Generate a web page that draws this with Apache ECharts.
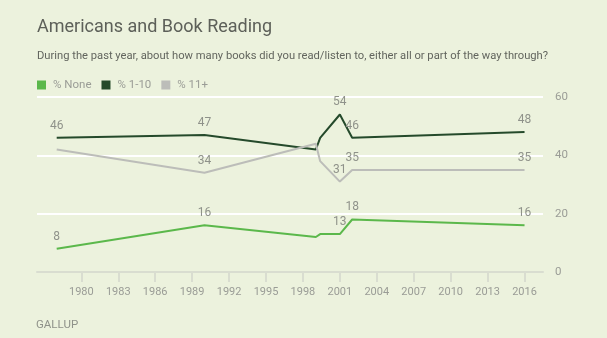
<!DOCTYPE html>
<html>
<head>
<meta charset="utf-8">
<script src="https://cdn.jsdelivr.net/npm/echarts@6/dist/echarts.min.js"></script>
<style>
html,body{margin:0;padding:0;background:#ecf2dd;}
#c{width:607px;height:338px;}
</style>
</head>
<body>
<div id="c"></div>
<script>
var years = [1978, 1990, 1999.05, 1999.4, 2001, 2002, 2016];
var noneVals = [8, 16, 12, 13, 13, 18, 16];
var oneTenVals = [46, 47, 42, 46, 54, 46, 48];
var elevenVals = [42, 34, 44, 38, 31, 35, 35];
var noneShow = [1, 1, 0, 0, 1, 1, 1];
var oneTenShow = [1, 1, 0, 0, 1, 1, 1];
var elevenShow = [0, 1, 0, 0, 1, 1, 1];
var xTicks = [1980, 1983, 1986, 1989, 1992, 1995, 1998, 2001, 2004, 2007, 2010, 2013, 2016];
var seriesNames = ['% None', '% 1-10', '% 11+'];

var FONT = 'Roboto';
function build(vals, show) {
  return years.map(function (y, i) {
    return { value: [y, vals[i]], label: { show: !!show[i] } };
  });
}
function mk(name, vals, show, color) {
  return {
    name: name, type: 'line', data: build(vals, show),
    symbol: 'circle', symbolSize: 0.01, showSymbol: true, showAllSymbol: true, smooth: false,
    lineStyle: { color: color, width: 2 },
    itemStyle: { color: color },
    label: { show: false, position: 'top', distance: 6, color: '#8f928a', fontSize: 12, fontFamily: FONT },
    emphasis: { disabled: true }, animation: false
  };
}
var chart = echarts.init(document.getElementById('c'), null, { renderer: 'canvas' });
chart.setOption({
  backgroundColor: '#ecf2dd',
  animation: false,
  title: [
    { text: 'Americans and Book Reading', left: 32, top: 13,
      textStyle: { fontFamily: FONT, fontSize: 18, fontWeight: 'normal', color: '#5d6059' } },
    { text: 'During the past year, about how many books did you read/listen to, either all or part of the way through?',
      left: 32, top: 46,
      textStyle: { fontFamily: FONT, fontSize: 11.2, fontWeight: 'normal', color: '#62655e' } }
  ],
  legend: {
    left: 32, top: 74, itemWidth: 9, itemHeight: 9, itemGap: 10, icon: 'rect',
    data: seriesNames,
    textStyle: { fontFamily: FONT, fontSize: 11.5, color: '#9a9c96', padding: [0, 0, 0, 2] }
  },
  grid: { left: 37, right: 64, top: 97, bottom: 66, containLabel: false },
  xAxis: {
    type: 'value', min: 1976.4, max: 2017.5,
    splitLine: { show: false },
    axisLine: { show: true, lineStyle: { color: '#d9ddd0', width: 2 } },
    axisTick: { show: true, length: 10, inside: false, customValues: xTicks, lineStyle: { color: '#d9ddd0', width: 2 } },
    axisLabel: { customValues: xTicks, margin: 15, color: '#9a9c96', fontSize: 11, fontFamily: FONT,
      formatter: function (v) { return String(v); } }
  },
  yAxis: {
    type: 'value', position: 'right', min: 0, max: 60, interval: 20,
    axisLine: { show: false }, axisTick: { show: false },
    splitLine: { lineStyle: { color: '#ffffff', width: 2 } },
    axisLabel: { margin: 12, color: '#9a9c96', fontSize: 11.5, fontFamily: FONT }
  },
  graphic: [
    { type: 'text', left: 36, top: 319,
      style: { text: 'GALLUP', fill: '#8f928a', font: '11.5px Roboto' } }
  ],
  series: [
    mk(seriesNames[0], noneVals, noneShow, '#5bb84b'),
    mk(seriesNames[1], oneTenVals, oneTenShow, '#254a2b'),
    mk(seriesNames[2], elevenVals, elevenShow, '#bcbdb9')
  ]
});
</script>
</body>
</html>
